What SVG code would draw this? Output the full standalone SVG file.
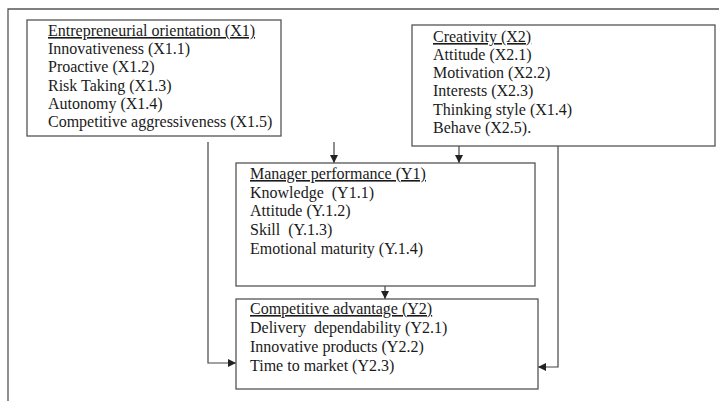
<svg xmlns="http://www.w3.org/2000/svg" width="719" height="401" viewBox="0 0 719 401">
<defs>
<style>
.box{fill:#fff;stroke:#555;stroke-width:1.3}
.frame{fill:none;stroke:#555;stroke-width:1.3}
.ln{fill:none;stroke:#444;stroke-width:1.2}
text{font-family:"Liberation Serif","Times New Roman",serif;font-size:16px;fill:#1a1a1a;white-space:pre}
.t{text-decoration:underline}
</style>
<marker id="ah" viewBox="0 0 10 10" refX="10" refY="5" markerWidth="8" markerHeight="8" markerUnits="userSpaceOnUse" orient="auto">
<path d="M0,0 L10,5 L0,10 z" fill="#222"/>
</marker>
</defs>
<rect width="719" height="401" fill="#fff"/>
<path class="frame" d="M8,401 V9 H719"/>
<g id="connectors">
<path class="ln" d="M334,142 V163" marker-end="url(#ah)"/>
<path class="ln" d="M459,146 V163" marker-end="url(#ah)"/>
<path class="ln" d="M385,286 V299" marker-end="url(#ah)"/>
<path class="ln" d="M208,142 V363 H236" marker-end="url(#ah)"/>
<path class="ln" d="M558,146 V367 H538" marker-end="url(#ah)"/>
</g>
<g id="x1">
<rect class="box" x="27" y="20" width="254" height="116"/>
<text x="48" y="36" class="t">Entrepreneurial orientation (X1)</text>
<text x="48" y="54">Innovativeness (X1.1)</text>
<text x="48" y="72">Proactive (X1.2)</text>
<text x="48" y="91">Risk Taking (X1.3)</text>
<text x="48" y="109">Autonomy (X1.4)</text>
<text x="48" y="127">Competitive aggressiveness (X1.5)</text>
</g>
<g id="x2">
<rect class="box" x="412" y="25" width="303" height="121"/>
<text x="433" y="42" class="t">Creativity (X2)</text>
<text x="433" y="60">Attitude (X2.1)</text>
<text x="433" y="78">Motivation (X2.2)</text>
<text x="433" y="96">Interests (X2.3)</text>
<text x="433" y="115">Thinking style (X1.4)</text>
<text x="433" y="133">Behave (X2.5).</text>
</g>
<g id="y1">
<rect class="box" x="236" y="163" width="299" height="123"/>
<text x="250" y="179" class="t">Manager performance (Y1)</text>
<text x="250" y="198" xml:space="preserve">Knowledge  (Y1.1)</text>
<text x="250" y="216">Attitude (Y.1.2)</text>
<text x="250" y="235" xml:space="preserve">Skill  (Y.1.3)</text>
<text x="250" y="254">Emotional maturity (Y.1.4)</text>
</g>
<g id="y2">
<rect class="box" x="236" y="299" width="302" height="90"/>
<text x="250" y="314" class="t">Competitive advantage (Y2)</text>
<text x="250" y="333" xml:space="preserve">Delivery  dependability (Y2.1)</text>
<text x="250" y="352">Innovative products (Y2.2)</text>
<text x="250" y="371">Time to market (Y2.3)</text>
</g>
</svg>
